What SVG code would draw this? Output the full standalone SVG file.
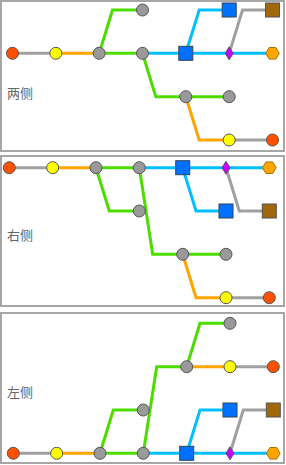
<svg xmlns="http://www.w3.org/2000/svg" xmlns:xlink="http://www.w3.org/1999/xlink" width="286" height="465" viewBox="0 0 286 465">
<style>
.frame{fill:#fff;stroke:#a6a6a6;stroke-width:2}
.lbl{font-family:"Noto Sans CJK SC","Noto Sans CJK TC",sans-serif;font-size:13px;fill:#666}
.ln{fill:none;stroke-width:3;stroke-linejoin:miter}
.lg{stroke:#a0a0a0}
.lo{stroke:#ffa500}
.lgr{stroke:#4cdc00}
.lc{stroke:#00c0ff}
.red{fill:#ff5000;stroke:#555;stroke-width:1}
.yel{fill:#ffff00;stroke:#555;stroke-width:1}
.gry{fill:#999;stroke:#555;stroke-width:1}
.blu{fill:#0070ff;stroke:#345;stroke-width:1}
.brn{fill:#a0680a;stroke:#555;stroke-width:1}
.dia{fill:#cc00ff;stroke:#555;stroke-width:1}
.hex{fill:#ffa500;stroke:#b07000;stroke-width:1}
</style>
<defs>
<circle id="c" r="6"/>
<rect id="s" x="-7" y="-7" width="14" height="14"/>
<polygon id="d" points="0,-6.5 4,0 0,6.5 -4,0"/>
<polygon id="h" points="-6.8,0 -3.4,-5.8 3.4,-5.8 6.8,0 3.4,5.8 -3.4,5.8"/>
</defs>

<rect class="frame" x="1" y="1" width="283" height="150"/>
<rect class="frame" x="1" y="156" width="283" height="150"/>
<rect class="frame" x="1" y="313" width="283" height="150"/>

<text class="lbl" x="7" y="98">两侧</text>
<text class="lbl" x="7" y="240">右侧</text>
<text class="lbl" x="7" y="397">左侧</text>

<g id="connectors">
<path class="ln lg" d="M12.5,53.3H55.8"/>
<path class="ln lo" d="M55.8,53.3H99.2"/>
<path class="ln lgr" d="M99.2,53.3H142.5"/>
<path class="ln lgr" d="M99.2,53.3L112.5,10H142.5"/>
<path class="ln lc" d="M142.5,53.3H272.5"/>
<path class="ln lc" d="M185.8,53.3L199.2,10H229.2"/>
<path class="ln lg" d="M229.2,53.3L242.5,10H272.5"/>
<path class="ln lgr" d="M142.5,53.3L155.8,96.7H229.2"/>
<path class="ln lo" d="M185.8,96.7L199.2,140H229.2"/>
<path class="ln lg" d="M229.2,140H272.5"/>
<path class="ln lg" d="M9.3,167.7H52.7"/>
<path class="ln lo" d="M52.7,167.7H96"/>
<path class="ln lgr" d="M96,167.7H139.3"/>
<path class="ln lc" d="M139.3,167.7H269.3"/>
<path class="ln lgr" d="M96,167.7L109.3,211H139.3"/>
<path class="ln lc" d="M182.7,167.7L196,211H226"/>
<path class="ln lg" d="M226,167.7L239.3,211H269.3"/>
<path class="ln lgr" d="M139.3,167.7L152.7,254.3H226"/>
<path class="ln lo" d="M182.7,254.3L196,297.7H226"/>
<path class="ln lg" d="M226,297.7H269.3"/>
<path class="ln lg" d="M13.3,453.3H56.7"/>
<path class="ln lo" d="M56.7,453.3H100"/>
<path class="ln lgr" d="M100,453.3H143.3"/>
<path class="ln lc" d="M143.3,453.3H273.3"/>
<path class="ln lgr" d="M100,453.3L113.3,410H143.3"/>
<path class="ln lc" d="M186.7,453.3L200,410H230"/>
<path class="ln lg" d="M230,453.3L243.3,410H273.3"/>
<path class="ln lgr" d="M143.3,453.3L156.7,366.7H186.7"/>
<path class="ln lo" d="M186.7,366.7H230"/>
<path class="ln lg" d="M230,366.7H273.3"/>
<path class="ln lgr" d="M186.7,366.7L200,323.3H230"/>
</g>

<g id="p1-n1"><use xlink:href="#c" class="red" x="12.5" y="53.3"/></g>
<g id="p1-n2"><use xlink:href="#c" class="yel" x="55.8" y="53.3"/></g>
<g id="p1-n3"><use xlink:href="#c" class="gry" x="99.2" y="53.3"/></g>
<g id="p1-n4"><use xlink:href="#c" class="gry" x="142.5" y="53.3"/></g>
<g id="p1-n5"><use xlink:href="#s" class="blu" x="185.8" y="53.3"/></g>
<g id="p1-n6"><use xlink:href="#d" class="dia" x="229.2" y="53.3"/></g>
<g id="p1-n7"><use xlink:href="#h" class="hex" x="272.5" y="53.3"/></g>
<g id="p1-n8"><use xlink:href="#c" class="gry" x="142.5" y="10"/></g>
<g id="p1-n9"><use xlink:href="#s" class="blu" x="229.2" y="10"/></g>
<g id="p1-n10"><use xlink:href="#s" class="brn" x="272.5" y="10"/></g>
<g id="p1-n11"><use xlink:href="#c" class="gry" x="185.8" y="96.7"/></g>
<g id="p1-n12"><use xlink:href="#c" class="gry" x="229.2" y="96.7"/></g>
<g id="p1-n13"><use xlink:href="#c" class="yel" x="229.2" y="140"/></g>
<g id="p1-n14"><use xlink:href="#c" class="red" x="272.5" y="140"/></g>

<g id="p2-n1"><use xlink:href="#c" class="red" x="9.3" y="167.7"/></g>
<g id="p2-n2"><use xlink:href="#c" class="yel" x="52.7" y="167.7"/></g>
<g id="p2-n3"><use xlink:href="#c" class="gry" x="96" y="167.7"/></g>
<g id="p2-n4"><use xlink:href="#c" class="gry" x="139.3" y="167.7"/></g>
<g id="p2-n5"><use xlink:href="#s" class="blu" x="182.7" y="167.7"/></g>
<g id="p2-n6"><use xlink:href="#d" class="dia" x="226" y="167.7"/></g>
<g id="p2-n7"><use xlink:href="#h" class="hex" x="269.3" y="167.7"/></g>
<g id="p2-n8"><use xlink:href="#c" class="gry" x="139.3" y="211"/></g>
<g id="p2-n9"><use xlink:href="#s" class="blu" x="226" y="211"/></g>
<g id="p2-n10"><use xlink:href="#s" class="brn" x="269.3" y="211"/></g>
<g id="p2-n11"><use xlink:href="#c" class="gry" x="182.7" y="254.3"/></g>
<g id="p2-n12"><use xlink:href="#c" class="gry" x="226" y="254.3"/></g>
<g id="p2-n13"><use xlink:href="#c" class="yel" x="226" y="297.7"/></g>
<g id="p2-n14"><use xlink:href="#c" class="red" x="269.3" y="297.7"/></g>

<g id="p3-n1"><use xlink:href="#c" class="red" x="13.3" y="453.3"/></g>
<g id="p3-n2"><use xlink:href="#c" class="yel" x="56.7" y="453.3"/></g>
<g id="p3-n3"><use xlink:href="#c" class="gry" x="100" y="453.3"/></g>
<g id="p3-n4"><use xlink:href="#c" class="gry" x="143.3" y="453.3"/></g>
<g id="p3-n5"><use xlink:href="#s" class="blu" x="186.7" y="453.3"/></g>
<g id="p3-n6"><use xlink:href="#d" class="dia" x="230" y="453.3"/></g>
<g id="p3-n7"><use xlink:href="#h" class="hex" x="273.3" y="453.3"/></g>
<g id="p3-n8"><use xlink:href="#c" class="gry" x="143.3" y="410"/></g>
<g id="p3-n9"><use xlink:href="#s" class="blu" x="230" y="410"/></g>
<g id="p3-n10"><use xlink:href="#s" class="brn" x="273.3" y="410"/></g>
<g id="p3-n11"><use xlink:href="#c" class="gry" x="186.7" y="366.7"/></g>
<g id="p3-n12"><use xlink:href="#c" class="yel" x="230" y="366.7"/></g>
<g id="p3-n13"><use xlink:href="#c" class="red" x="273.3" y="366.7"/></g>
<g id="p3-n14"><use xlink:href="#c" class="gry" x="230" y="323.3"/></g>
</svg>
